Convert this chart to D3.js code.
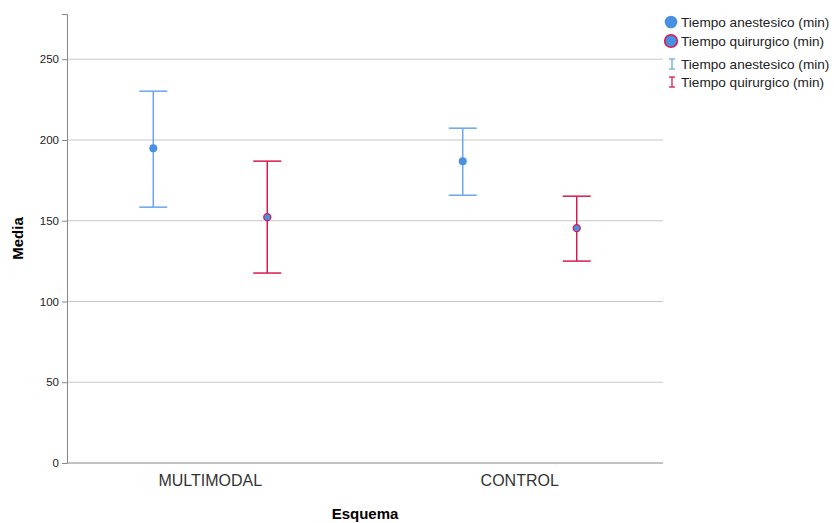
<!DOCTYPE html>
<html>
<head>
<meta charset="utf-8">
<script src="https://cdn.jsdelivr.net/npm/d3@7"></script>
<style>
  body { margin: 0; background: #fff; }
  svg { font-family: Arial, "Liberation Sans", sans-serif; }
</style>
</head>
<body>
<svg id="drawing_region"></svg>
<script>
// data
const categories = ["MULTIMODAL", "CONTROL"];
const seriesNames = ["Tiempo anestesico (min)", "Tiempo quirurgico (min)"];
const means = [[194.9, 152.2], [186.9, 145.4]];
const upper = [[230.2, 186.9], [207.3, 165.2]];
const lower = [[158.4, 117.6], [165.8, 125.0]];
const yTicks = [0, 50, 100, 150, 200, 250];

const config = {
    width: 834, height: 523,
    margin: {top: 14, right: 171, bottom: 60, left: 67}
};
const blue = "#4a90e2", blueBar = "#6aa6ee", red = "#d81a4c";

const svg = d3.select("#drawing_region")
    .attr("width", config.width)
    .attr("height", config.height);

const innerW = config.width - config.margin.left - config.margin.right;
const innerH = config.height - config.margin.top - config.margin.bottom;

const chart = svg.append("g")
    .attr("transform", `translate(${config.margin.left}, ${config.margin.top})`);

const xscale = d3.scalePoint().domain(categories).range([0, innerW]).padding(0.463);
const yscale = d3.scaleLinear().domain([0, 278]).range([innerH, 0]);
const offset = 57;

// grid
chart.selectAll(".grid").data(yTicks.filter(d => d > 0)).enter()
    .append("line")
    .attr("x1", 0).attr("x2", innerW)
    .attr("y1", d => yscale(d)).attr("y2", d => yscale(d))
    .attr("stroke", "#c8c8c8").attr("stroke-width", 1);

// axes
const yaxis = d3.axisLeft(yscale).tickValues(yTicks).tickSize(5).tickPadding(3);
const ygroup = chart.append("g").call(yaxis);
ygroup.select(".domain").attr("stroke", "#888");
ygroup.selectAll(".tick line").attr("stroke", "#888");
ygroup.selectAll(".tick text").attr("font-size", 11.5).attr("fill", "#222");

chart.append("line")
    .attr("x1", 0).attr("x2", innerW).attr("y1", innerH).attr("y2", innerH)
    .attr("stroke", "#888");

chart.selectAll(".cat").data(categories).enter()
    .append("text")
    .attr("x", d => xscale(d))
    .attr("y", innerH + 23)
    .attr("text-anchor", "middle")
    .attr("font-size", 16).attr("fill", "#333")
    .text(d => d);

svg.append("text")
    .attr("x", config.margin.left + innerW / 2).attr("y", 519)
    .attr("text-anchor", "middle").attr("font-size", 15).attr("font-weight", "bold")
    .text("Esquema");

svg.append("text")
    .attr("transform", `translate(23, ${config.margin.top + innerH / 2}) rotate(-90)`)
    .attr("text-anchor", "middle").attr("font-size", 15).attr("font-weight", "bold")
    .text("Media");

// error bars and points
const rows = [];
categories.forEach((c, i) => {
    seriesNames.forEach((s, j) => {
        rows.push({cat: c, s: j, m: means[i][j], hi: upper[i][j], lo: lower[i][j]});
    });
});
const cx = d => xscale(d.cat) + (d.s === 0 ? -offset : offset);
const barColor = d => d.s === 0 ? blueBar : red;

const eb = chart.selectAll(".eb").data(rows).enter().append("g");
eb.append("line")
    .attr("x1", cx).attr("x2", cx)
    .attr("y1", d => yscale(d.hi)).attr("y2", d => yscale(d.lo))
    .attr("stroke", barColor).attr("stroke-width", 1.5);
eb.append("line")
    .attr("x1", d => cx(d) - 14).attr("x2", d => cx(d) + 14)
    .attr("y1", d => yscale(d.hi)).attr("y2", d => yscale(d.hi))
    .attr("stroke", barColor).attr("stroke-width", 1.5);
eb.append("line")
    .attr("x1", d => cx(d) - 14).attr("x2", d => cx(d) + 14)
    .attr("y1", d => yscale(d.lo)).attr("y2", d => yscale(d.lo))
    .attr("stroke", barColor).attr("stroke-width", 1.5);
eb.append("circle")
    .attr("cx", cx).attr("cy", d => yscale(d.m))
    .attr("r", d => d.s === 0 ? 4 : 3.5)
    .attr("fill", blue)
    .attr("stroke", d => d.s === 0 ? "none" : red)
    .attr("stroke-width", 1.3);

// legend
const legend = svg.append("g").attr("transform", "translate(671, 0)");
seriesNames.forEach((s, j) => {
    legend.append("circle")
        .attr("cx", 0).attr("cy", 22 + j * 19).attr("r", 6.3)
        .attr("fill", blue)
        .attr("stroke", j === 0 ? "none" : red).attr("stroke-width", 1.6);
    legend.append("text")
        .attr("x", 10).attr("y", 27 + j * 19)
        .attr("font-size", 13.6).attr("fill", "#222").text(s);
});
seriesNames.forEach((s, j) => {
    const y = 64 + j * 18;
    const col = j === 0 ? blueBar : red;
    legend.append("line").attr("x1", 1).attr("x2", 1).attr("y1", y - 5).attr("y2", y + 5)
        .attr("stroke", col).attr("stroke-width", 1.3);
    legend.append("line").attr("x1", -2).attr("x2", 4).attr("y1", y - 5).attr("y2", y - 5)
        .attr("stroke", col).attr("stroke-width", 1.3);
    legend.append("line").attr("x1", -2).attr("x2", 4).attr("y1", y + 5).attr("y2", y + 5)
        .attr("stroke", col).attr("stroke-width", 1.3);
    legend.append("text")
        .attr("x", 10).attr("y", y + 5)
        .attr("font-size", 13.6).attr("fill", "#222").text(s);
});
</script>
</body>
</html>
